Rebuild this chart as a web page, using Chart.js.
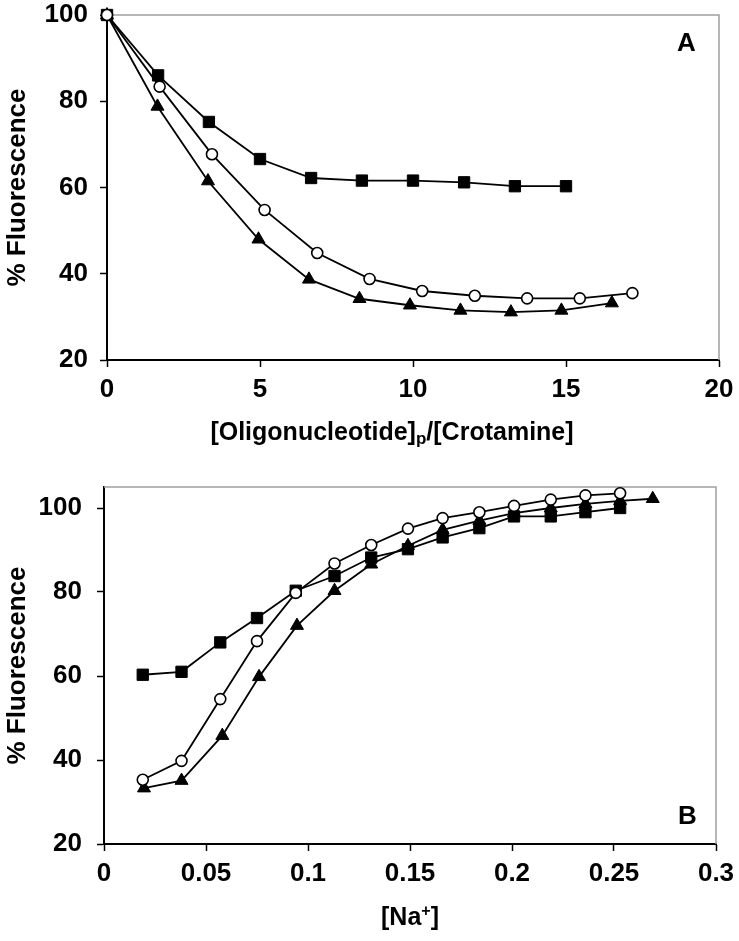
<!DOCTYPE html>
<html>
<head>
<meta charset="utf-8">
<script src="https://cdn.jsdelivr.net/npm/chart.js@4.4.0/dist/chart.umd.min.js"></script>
<style>
  body { margin: 0; background: #fff; }
  #wrap { position: relative; width: 739px; height: 941px; }
  canvas { position: absolute; left: 0; }
  .lbl { position: absolute; font: bold 25px 'Liberation Sans', Arial, sans-serif; line-height: 25px; color: #000; white-space: nowrap; text-align: center; }
  .lbl sub { font-size: 17px; vertical-align: -4px; line-height: 0; }
  .lbl sup { font-size: 16px; vertical-align: 9px; line-height: 0; }
</style>
</head>
<body>
<div id="wrap">
  <canvas id="chartA" width="739" height="470" style="top:0"></canvas>
  <canvas id="chartB" width="739" height="471" style="top:470px"></canvas>
  <div class="lbl" style="left:0;width:784px;top:419px">[Oligonucleotide]<sub>p</sub>/[Crotamine]</div>
  <div class="lbl" style="left:0;width:820px;top:904px">[Na<sup>+</sup>]</div>
  <div class="lbl" style="left:677px;top:30px;font-size:26px">A</div>
  <div class="lbl" style="left:678px;top:803px;font-size:26px">B</div>
</div>
<script>
// Panel A: titration with oligonucleotide
const aSquareX = [0, 1.67, 3.33, 5.0, 6.67, 8.33, 10.0, 11.67, 13.33, 15.0];
const aSquareY = [100, 86, 75.2, 66.6, 62.2, 61.6, 61.6, 61.2, 60.3, 60.3];
const aCircleX = [0, 1.72, 3.43, 5.15, 6.87, 8.58, 10.3, 12.02, 13.73, 15.45, 17.17];
const aCircleY = [100, 83.4, 67.7, 54.8, 44.8, 38.8, 36, 34.9, 34.3, 34.3, 35.5];
const aTriangleX = [0, 1.65, 3.3, 4.95, 6.6, 8.25, 9.9, 11.55, 13.2, 14.85, 16.5];
const aTriangleY = [100, 78.8, 61.5, 48, 38.7, 34.2, 32.7, 31.5, 31.1, 31.5, 33.2];

// Panel B: salt dissociation
const bX = [0.019, 0.038, 0.057, 0.075, 0.094, 0.113, 0.131, 0.149, 0.166, 0.184, 0.201, 0.219, 0.236, 0.253];
const bSquareY = [60.3, 61, 68, 73.8, 80.3, 83.8, 88.2, 90.2, 93, 95.2, 98, 98, 99, 100];
const bCircleY = [35.3, 39.8, 54.5, 68.3, 79.8, 86.8, 91.2, 95.1, 97.6, 99, 100.5, 102, 103, 103.5];
const bTriangleX = [0.0196, 0.038, 0.058, 0.076, 0.0946, 0.113, 0.131, 0.149, 0.166, 0.184, 0.201, 0.219, 0.236, 0.253, 0.269];
const bTriangleY = [33.3, 35.1, 45.8, 59.8, 72, 80.3, 86.6, 91, 94.8, 97, 98.8, 100, 101, 101.7, 102.2];

const yTicks = [20, 40, 60, 80, 100];
const FONT = "'Liberation Sans', Arial, sans-serif";

function pts(xs, ys) {
  return xs.map((x, i) => ({ x: x, y: ys[i] }));
}

function series(data, style) {
  const base = {
    data: data,
    borderColor: "#000",
    borderWidth: 1.8,
    pointBorderColor: "#000",
    pointBorderWidth: 1,
    tension: 0,
    clip: false,
  };
  if (style === "circle") {
    return Object.assign(base, { pointStyle: "circle", pointRadius: 5.5, pointBackgroundColor: "#fff", pointBorderWidth: 1.6 });
  }
  if (style === "rect") {
    return Object.assign(base, { pointStyle: "rect", pointRadius: 8, pointBackgroundColor: "#000" });
  }
  return Object.assign(base, { pointStyle: "triangle", pointRadius: 7.5, pointBackgroundColor: "#000" });
}

// grey frame on top and right of the plot area
const frame = {
  id: "frame",
  beforeDatasetsDraw(chart) {
    const { ctx, chartArea: a } = chart;
    ctx.save();
    ctx.strokeStyle = "#a0a0a0";
    ctx.lineWidth = 1.5;
    ctx.beginPath();
    ctx.moveTo(a.left, a.top);
    ctx.lineTo(a.right, a.top);
    ctx.lineTo(a.right, a.bottom);
    ctx.stroke();
    ctx.restore();
  },
};

function makePanel(id, datasets, p) {
  new Chart(document.getElementById(id), {
    type: "line",
    data: { datasets: datasets },
    plugins: [frame],
    options: {
      responsive: false,
      animation: false,
      layout: { padding: { top: p.top, right: p.right, left: 0, bottom: 0 } },
      plugins: { legend: { display: false }, tooltip: { enabled: false } },
      scales: {
        x: {
          type: "linear",
          min: p.xMin,
          max: p.xMax,
          afterFit: (axis) => {
            axis.height = p.xHeight;
            axis.paddingLeft = 0;
            axis.paddingRight = 0;
          },
          border: { color: "#000", width: 2 },
          grid: { drawOnChartArea: false, tickLength: 7, tickColor: "#000", tickWidth: 1.5 },
          ticks: {
            stepSize: p.xStep,
            padding: 7,
            color: "#000",
            font: { family: FONT, size: 26, weight: "bold" },
            maxRotation: 0,
            callback: (v) => String(Math.round(v * 100) / 100),
          },
        },
        y: {
          min: 20,
          max: p.yMax,
          afterFit: (axis) => {
            axis.width = p.yWidth;
            axis.paddingTop = 0;
            axis.paddingBottom = 0;
          },
          afterBuildTicks: (axis) => {
            axis.ticks = yTicks.map((v) => ({ value: v }));
          },
          border: { color: "#000", width: 2 },
          grid: { drawOnChartArea: false, tickLength: 7, tickColor: "#000", tickWidth: 1.5 },
          ticks: {
            padding: p.yPad,
            color: "#000",
            font: { family: FONT, size: 26, weight: "bold" },
          },
          title: {
            display: true,
            text: "% Fluorescence",
            color: "#000",
            font: { family: FONT, size: 26, weight: "bold" },
            padding: { top: 2, bottom: 0 },
          },
        },
      },
    },
  });
}

makePanel("chartA", [
  series(pts(aCircleX, aCircleY), "circle"),
  series(pts(aTriangleX, aTriangleY), "triangle"),
  series(pts(aSquareX, aSquareY), "rect"),
], { top: 15, right: 20, xHeight: 110, yWidth: 107, xMin: 0, xMax: 20, xStep: 5, yMax: 100, yPad: 12 });

makePanel("chartB", [
  series(pts(bX, bCircleY), "circle"),
  series(pts(bTriangleX, bTriangleY), "triangle"),
  series(pts(bX, bSquareY), "rect"),
], { top: 17, right: 23, xHeight: 97, yWidth: 104, xMin: 0, xMax: 0.3, xStep: 0.05, yMax: 105, yPad: 15 });
</script>
</body>
</html>
